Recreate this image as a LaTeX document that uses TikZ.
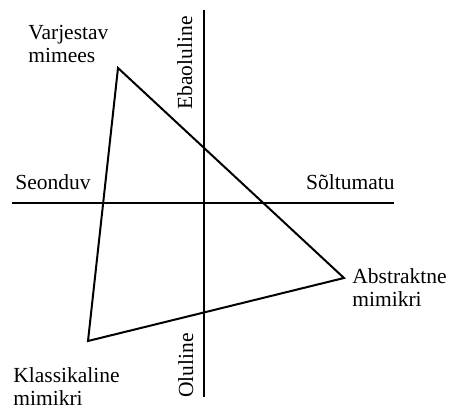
\documentclass[tikz,border=0pt]{standalone}
\usepackage{fontspec}
\setmainfont{Liberation Serif}
\usetikzlibrary{positioning}
\tikzset{
  axline/.style={line width=1pt},
  triline/.style={line width=1pt,line join=miter},
  lbl/.style={font=\fontsize{10.75}{11.5}\selectfont,align=left,inner sep=0pt}
}

\begin{document}
\begin{tikzpicture}[x=0.5pt,y=-0.5pt]
  \useasboundingbox (0,0) rectangle (454,410);
  % axes
  \coordinate (vtop) at (204,10);
  \coordinate (vbot) at (204,397);
  \coordinate (hleft) at (12,203);
  \coordinate (hright) at (394,203);
  \draw[axline] (vtop)--(vbot);
  \draw[axline] (hleft)--(hright);

  % triangle
  \coordinate (varjc) at (118,68);
  \coordinate (abstrc) at (344,278);
  \coordinate (klassc) at (88,341);
  \draw[triline] (varjc)--(abstrc)--(klassc)--cycle;

  % labels
  \node[lbl, anchor=north west] (varj) at (28,25) {Varjestav\\mimees};
  \node[lbl, anchor=north west] (abstr) at (352,268) {Abstraktne\\mimikri};
  \node[lbl, anchor=north west] (klass) at (13,367) {Klassikaline\\mimikri};
  \node[lbl, anchor=base west] (seond) at (15,190) {Seonduv};
  \node[lbl, anchor=base east] (soltu) at (395,190) {Sõltumatu};
  \node[lbl, rotate=90, anchor=base west] (ebaol) at (192,110) {Ebaoluline};
  \node[lbl, rotate=90, anchor=base west] (olul) at (193,398) {Oluline};
\end{tikzpicture}
\end{document}
